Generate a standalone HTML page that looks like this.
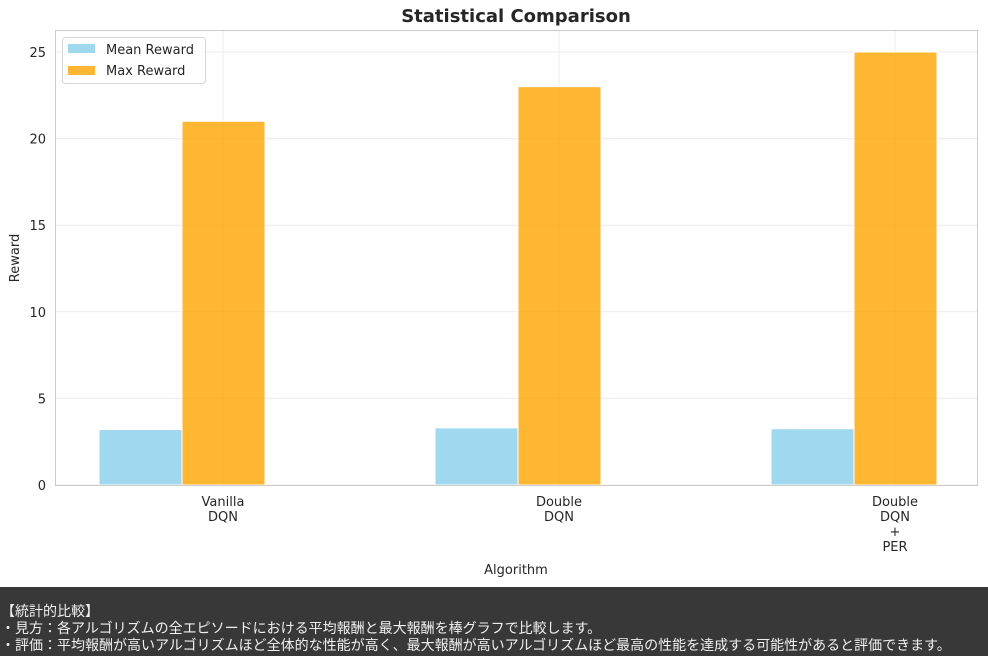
<!DOCTYPE html>
<html><head><meta charset="utf-8"><style>
body{margin:0;width:988px;height:656px;overflow:hidden;background:#fff;font-family:"DejaVu Sans","Noto Sans CJK JP",sans-serif}
#panel{position:absolute;left:0;top:587px;width:988px;height:69px;background:#383838;color:#f0f0f0;font-size:14px;line-height:17px;padding-top:17px;box-sizing:border-box;padding-left:1px;font-family:"DejaVu Sans","Noto Sans CJK JP",sans-serif;white-space:nowrap}
</style></head><body>
<svg id="chart" width="988" height="587" style="position:absolute;left:0;top:0;font-family:'DejaVu Sans',sans-serif"></svg>
<div id="panel">
<div>【統計的比較】</div>
<div>・見方：各アルゴリズムの全エピソードにおける平均報酬と最大報酬を棒グラフで比較します。</div>
<div>・評価：平均報酬が高いアルゴリズムほど全体的な性能が高く、最大報酬が高いアルゴリズムほど最高の性能を達成する可能性があると評価できます。</div>
</div>
<script>
const categories=[["Vanilla","DQN"],["Double","DQN"],["Double","DQN","+","PER"]];
const meanValues=[3.2,3.3,3.25];
const maxValues=[21,23,25];
const yTicks=[0,5,10,15,20,25];
const L=55,R=978,T=30,B=485;
const y=v=>B-v*(B-52)/25;
const cx=i=>182+i*336;
const bw=83;
const svg=document.getElementById('chart');
const NS='http://www.w3.org/2000/svg';
function mk(t,a,txt){const e=document.createElementNS(NS,t);for(const k in a)e.setAttribute(k,a[k]);if(txt!=null)e.textContent=txt;svg.appendChild(e);return e;}
let e;
yTicks.forEach(v=>{
e=mk('line',{x1:L,x2:R,y1:y(v),y2:y(v),stroke:'#ebebeb','stroke-width':1});


e=mk('text',{x:46,y:y(v)+5,'text-anchor':'end','font-size':13,fill:'#262626'},v);


});
categories.forEach((c,i)=>{
e=mk('line',{x1:cx(i)+41,x2:cx(i)+41,y1:T,y2:B,stroke:'#ebebeb','stroke-width':1});


c.forEach((s,j)=>{
e=mk('text',{x:cx(i)+41,y:506+j*15,'text-anchor':'middle','font-size':13,fill:'#262626'},s);


});
e=mk('rect',{x:cx(i)-bw,y:y(meanValues[i]),width:bw,height:B-y(meanValues[i]),fill:'#87ceeb','fill-opacity':0.8,stroke:'#fff','stroke-width':1});


e=mk('rect',{x:cx(i),y:y(maxValues[i]),width:bw,height:B-y(maxValues[i]),fill:'#ffa500','fill-opacity':0.8,stroke:'#fff','stroke-width':1});


});
e=mk('rect',{x:L+0.5,y:T+0.5,width:R-L-1,height:B-T,fill:'none',stroke:'#cccccc','stroke-width':1});


e=mk('text',{x:516,y:22,'text-anchor':'middle','font-size':18,'font-weight':'bold',fill:'#262626'},'Statistical Comparison');


e=mk('text',{x:516,y:574,'text-anchor':'middle','font-size':13,fill:'#262626'},'Algorithm');


e=mk('text',{x:19,y:258,'text-anchor':'middle','font-size':13,fill:'#262626',transform:'rotate(-90 19 258)'},'Reward');


e=mk('rect',{x:62.5,y:37.5,width:143,height:46,rx:3,fill:'#fff','fill-opacity':0.8,stroke:'#d6d6d6'});


e=mk('rect',{x:68,y:44,width:27,height:9,fill:'#87ceeb','fill-opacity':0.8});


e=mk('text',{x:106,y:54,'font-size':13,fill:'#262626'},'Mean Reward');


e=mk('rect',{x:68,y:66,width:27,height:9,fill:'#ffa500','fill-opacity':0.8});


e=mk('text',{x:106,y:75,'font-size':13,fill:'#262626'},'Max Reward');


</script>
</body></html>
